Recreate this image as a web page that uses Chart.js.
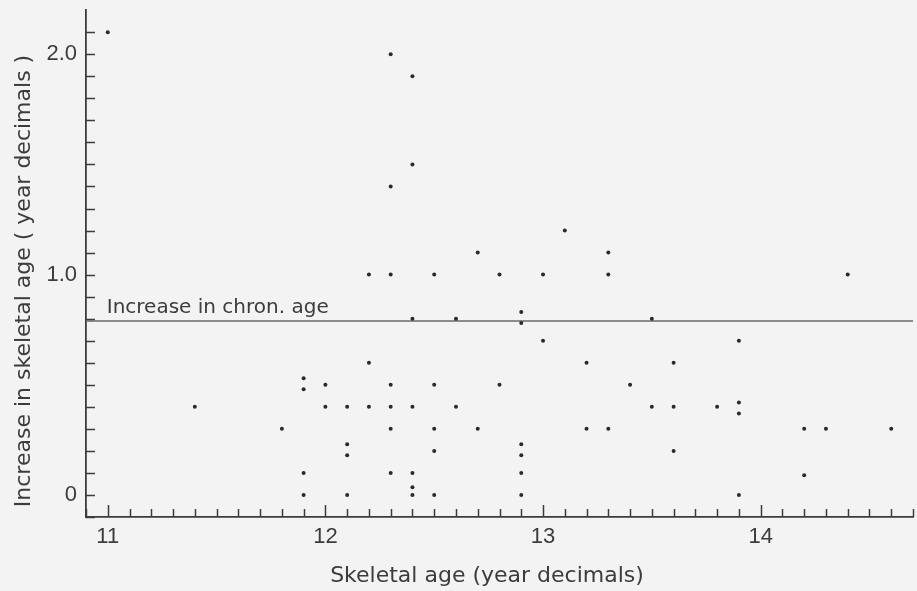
<!DOCTYPE html>
<html>
<head>
<meta charset="utf-8">
<script src="https://cdn.jsdelivr.net/npm/chart.js@4/dist/chart.umd.min.js"></script>
<style>
  html, body { margin: 0; padding: 0; background: #f3f3f3; }
  #wrap { width: 917px; height: 591px; }
</style>
</head>
<body>
<div id="wrap"><canvas id="skeletal"></canvas></div>
<script>
// skeletal age at start vs increase in skeletal age over the period
const skeletalAge = [
  11.0, 11.4, 11.8,
  11.9, 11.9, 11.9, 11.9,
  12.0, 12.0,
  12.1, 12.1, 12.1, 12.1,
  12.2, 12.2, 12.2,
  12.3, 12.3, 12.3, 12.3, 12.3, 12.3, 12.3,
  12.4, 12.4, 12.4, 12.4, 12.4, 12.4, 12.4,
  12.5, 12.5, 12.5, 12.5, 12.5,
  12.6, 12.6,
  12.7, 12.7,
  12.8, 12.8,
  12.9, 12.9, 12.9, 12.9, 12.9, 12.9,
  13.0, 13.0,
  13.1,
  13.2, 13.2,
  13.3, 13.3, 13.3,
  13.4,
  13.5, 13.5,
  13.6, 13.6, 13.6,
  13.8,
  13.9, 13.9, 13.9, 13.9,
  14.2, 14.2,
  14.3,
  14.4,
  14.6
]
const skeletalIncrease = [
  2.1, 0.4, 0.3,
  0.53, 0.48, 0.1, 0.0,
  0.5, 0.4,
  0.4, 0.23, 0.18, 0.0,
  1.0, 0.6, 0.4,
  2.0, 1.4, 1.0, 0.5, 0.4, 0.3, 0.1,
  1.9, 1.5, 0.8, 0.4, 0.1, 0.035, 0.0,
  1.0, 0.5, 0.3, 0.2, 0.0,
  0.8, 0.4,
  1.1, 0.3,
  1.0, 0.5,
  0.83, 0.78, 0.23, 0.18, 0.1, 0.0,
  1.0, 0.7,
  1.2,
  0.6, 0.3,
  1.1, 1.0, 0.3,
  0.5,
  0.8, 0.4,
  0.6, 0.4, 0.2,
  0.4,
  0.7, 0.42, 0.37, 0.0,
  0.3, 0.09,
  0.3,
  1.0,
  0.3
]
// reference line: increase in chronological age
const chronIncrease = 0.79
const chronLabel = "Increase in chron. age"

const xRange = [10.9, 14.7]
const yRange = [-0.1, 2.2]
const xTickLabels = { 11: "11", 12: "12", 13: "13", 14: "14" }
const yTickLabels = { 0: "0", 10: "1.0", 20: "2.0" }

const xTitle = "Skeletal age (year decimals)"
const yTitle = "Increase in skeletal age ( year decimals )"

const ink = "#3c3c3c"
const titleFont = '22px "DejaVu Sans"'

const paper = {
  id: "paper",
  beforeDraw(chart) {
    const { ctx, width, height } = chart
    ctx.save()
    ctx.fillStyle = "#f3f3f3"
    ctx.fillRect(0, 0, width, height)
    ctx.restore()
  },
  afterDatasetsDraw(chart) {
    const { ctx, scales: { x } } = chart
    const ref = chart.getDatasetMeta(1).data[0]
    ctx.save()
    ctx.fillStyle = ink
    ctx.font = '20px "DejaVu Sans"'
    ctx.textBaseline = "alphabetic"
    ctx.fillText(chronLabel, x.getPixelForValue(11.0) - 1, ref.y - 8)
    ctx.restore()
  },
  afterDraw(chart) {
    const { ctx, scales: { x, y } } = chart
    ctx.save()
    ctx.strokeStyle = ink
    ctx.lineWidth = 1.5
    ctx.beginPath()
    // tick marks point inwards
    x.ticks.forEach(t => {
      const px = Math.round(x.getPixelForValue(t.value)) + 0.5
      const major = Math.abs(t.value - Math.round(t.value)) < 1e-6
      ctx.moveTo(px, y.bottom)
      ctx.lineTo(px, y.bottom - (major ? 12 : 8))
    })
    y.ticks.forEach(t => {
      if (t.value > 2.15) return
      const py = Math.round(y.getPixelForValue(t.value)) + 0.5
      ctx.moveTo(x.left, py)
      ctx.lineTo(x.left + 9, py)
    })
    ctx.stroke()

    ctx.fillStyle = ink
    ctx.font = titleFont
    ctx.textAlign = "center"
    ctx.textBaseline = "alphabetic"
    ctx.fillText(xTitle, 487, 582)
    ctx.translate(30, 281)
    ctx.rotate(-Math.PI / 2)
    ctx.fillText(yTitle, 0, 0)
    ctx.restore()
  }
}

new Chart(document.getElementById("skeletal"), {
  type: "scatter",
  data: {
    datasets: [
      {
        label: "Skeletal age increase",
        data: skeletalAge.map((a, i) => ({ x: a, y: skeletalIncrease[i] })),
        pointRadius: 2,
        pointBackgroundColor: "#2a2a2a",
        pointBorderWidth: 0
      },
      {
        label: chronLabel,
        data: xRange.map(a => ({ x: a, y: chronIncrease })),
        showLine: true,
        pointRadius: 0,
        borderColor: "#6a6a6a",
        borderWidth: 1.5
      }
    ]
  },
  options: {
    responsive: true,
    maintainAspectRatio: false,
    animation: false,
    events: [],
    layout: { padding: { left: 0, right: 2.7, top: 10.2, bottom: 0 } },
    plugins: { legend: { display: false }, tooltip: { enabled: false } },
    scales: {
      x: {
        type: "linear",
        min: xRange[0],
        max: xRange[1],
        afterFit: s => { s.height = 74; s.paddingLeft = 0; s.paddingRight = 0 },
        grid: { display: false, drawTicks: false },
        border: { display: true, color: ink, width: 1.8 },
        ticks: {
          stepSize: 0.1,
          autoSkip: false,
          maxRotation: 0,
          minRotation: 0,
          padding: 7,
          color: ink,
          font: { family: "Liberation Sans", size: 22 },
          callback: v => xTickLabels[Math.round(v * 10) / 10] || ""
        }
      },
      y: {
        type: "linear",
        min: yRange[0],
        max: yRange[1],
        afterFit: s => { s.width = 86; s.paddingTop = 0; s.paddingBottom = 0 },
        grid: { display: false, drawTicks: false },
        border: { display: true, color: ink, width: 1.8 },
        ticks: {
          stepSize: 0.1,
          autoSkip: false,
          padding: 9,
          color: ink,
          font: { family: "Liberation Sans", size: 22 },
          callback: v => yTickLabels[Math.round(v * 10)] || ""
        }
      }
    }
  },
  plugins: [paper]
})
</script>
</body>
</html>
